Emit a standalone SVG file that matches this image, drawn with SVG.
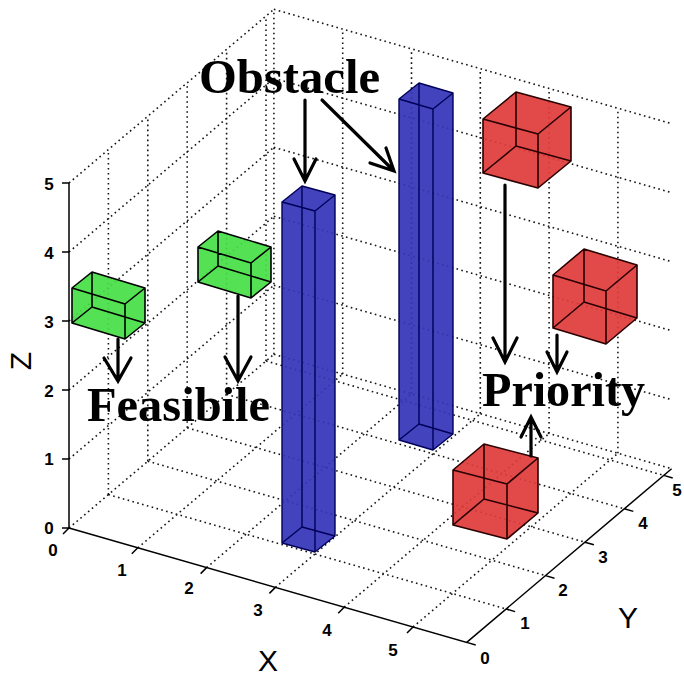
<svg xmlns="http://www.w3.org/2000/svg" width="684" height="676" viewBox="0 0 684 676">
<style>
.grid{fill:none;stroke:#151515;stroke-width:1.6;stroke-dasharray:1.6 3.4}
.axis{fill:none;stroke:#000;stroke-width:1.5}
.tick{font-family:"Liberation Sans",Arial,sans-serif;font-weight:bold;font-size:17px;fill:#000;text-anchor:middle}
.alab{font-family:"Liberation Sans",Arial,sans-serif;font-size:30px;fill:#000;text-anchor:middle}
.big{font-family:"Liberation Serif","Times New Roman",serif;font-weight:bold;font-size:48px;fill:#000}
.gfill{fill:#45de45;fill-opacity:0.92;stroke:none}
.rfill{fill:#e03a3a;fill-opacity:0.92;stroke:none}
.bfill{fill:#3535b8;fill-opacity:0.93;stroke:none}
.edge{fill:none;stroke:#000;stroke-width:1.6;stroke-linejoin:round}
.redge{fill:none;stroke:#2a0000;stroke-width:1.6;stroke-linejoin:round}
.bedge{fill:none;stroke:#00005a;stroke-width:1.4;stroke-linejoin:round}
.arr{fill:none;stroke:#000;stroke-width:3.2;stroke-linecap:round;stroke-linejoin:miter}
</style>
<rect width="684" height="676" fill="#fff"/>
<g id="grid">
<path class="grid" d="M69,528 L273.9,354.3 M69,459 L273.9,285.3 M69,390 L273.9,216.3 M69,321 L273.9,147.3 M69,252 L273.9,78.3 M69,183 L273.9,9.3
M108.4,494.6 L108.4,149.6 M147.8,461.2 L147.8,116.2 M187.2,427.8 L187.2,82.8 M226.6,394.4 L226.6,49.4 M266,361 L266,16 M273.9,354.3 L273.9,9.3
M273.9,354.3 L671.6,468.7 M273.9,285.3 L671.6,399.7 M273.9,216.3 L671.6,330.7 M273.9,147.3 L671.6,261.7 M273.9,78.3 L671.6,192.7 M273.9,9.3 L671.6,123.7
M342.7,374.1 L342.7,29.1 M411.5,393.9 L411.5,48.9 M480.3,413.7 L480.3,68.7 M549.1,433.5 L549.1,88.5 M617.9,453.3 L617.9,108.3
M137.8,547.8 L342.7,374.1 M206.6,567.6 L411.5,393.9 M275.4,587.4 L480.3,413.7 M344.2,607.2 L549.1,433.5 M413,627 L617.9,453.3
M108.4,494.6 L506.1,609 M147.8,461.2 L545.5,575.6 M187.2,427.8 L584.9,542.2 M226.6,394.4 L624.3,508.8 M266,361 L663.7,475.4"/>
</g>
<g id="axes">
<path class="axis" d="M69,528 L69,183 M69,528 L466.7,642.4 L671.6,468.7
M62,528 L69,528 M62,459 L69,459 M62,390 L69,390 M62,321 L69,321 M62,252 L69,252 M62,183 L69,183
M69,528 L63,534 M137.8,547.8 L131.8,553.8 M206.6,567.6 L200.6,573.6 M275.4,587.4 L269.4,593.4 M344.2,607.2 L338.2,613.2 M413,627 L407,633
M466.7,642.4 L475.7,645 M506.1,609 L515.1,611.6 M545.5,575.6 L554.5,578.2 M584.9,542.2 L593.9,544.8 M624.3,508.8 L633.3,511.4 M663.7,475.4 L672.7,478"/>
<text class="tick" x="49" y="534">0</text>
<text class="tick" x="49" y="465">1</text>
<text class="tick" x="49" y="397">2</text>
<text class="tick" x="49" y="328">3</text>
<text class="tick" x="49" y="259">4</text>
<text class="tick" x="49" y="190">5</text>
<text class="tick" x="53" y="556">0</text>
<text class="tick" x="122" y="576">1</text>
<text class="tick" x="189" y="594">2</text>
<text class="tick" x="258" y="616">3</text>
<text class="tick" x="327" y="636">4</text>
<text class="tick" x="393" y="656">5</text>
<text class="tick" x="485" y="664">0</text>
<text class="tick" x="525" y="629">1</text>
<text class="tick" x="563" y="596">2</text>
<text class="tick" x="603" y="563">3</text>
<text class="tick" x="643" y="529">4</text>
<text class="tick" x="677" y="496">5</text>
<text class="alab" x="268" y="671">X</text>
<text class="alab" x="628" y="628">Y</text>
<text class="alab" transform="translate(20,361) rotate(-90)" x="0" y="10.5">Z</text>
</g>
<g id="feasible1">
<path class="gfill" d="M72,323 L125,339 L145,323 L145,288 L92,272 L72,288 Z"/>
<path class="edge" d="M72,323 L125,339 L145,323 L92,307 Z M72,288 L125,304 L145,288 L92,272 Z M72,323 L72,288 M125,339 L125,304 M145,323 L145,288 M92,307 L92,272"/>
</g>
<g id="feasible2">
<path class="gfill" d="M198,282 L251,298 L271,282 L271,247 L218,231 L198,247 Z"/>
<path class="edge" d="M198,282 L251,298 L271,282 L218,266 Z M198,247 L251,263 L271,247 L218,231 Z M198,282 L198,247 M251,298 L251,263 M271,282 L271,247 M218,266 L218,231"/>
</g>
<g id="obstacle1">
<path class="bfill" d="M282,543 L315,552 L335,536 L335,195 L302,186 L282,202 Z"/>
<path class="bedge" d="M282,543 L315,552 L335,536 L302,527 Z M282,202 L315,211 L335,195 L302,186 Z M282,543 L282,202 M315,552 L315,211 M335,536 L335,195 M302,527 L302,186"/>
</g>
<g id="obstacle2">
<path class="bfill" d="M399,440 L433,450 L453,434 L453,93 L419,83 L399,99 Z"/>
<path class="bedge" d="M399,440 L433,450 L453,434 L419,424 Z M399,99 L433,109 L453,93 L419,83 Z M399,440 L399,99 M433,450 L433,109 M453,434 L453,93 M419,424 L419,83"/>
</g>
<g id="priority1">
<path class="rfill" d="M483,173 L538,188 L571,161 L571,107 L516,92 L483,119 Z"/>
<path class="redge" d="M483,173 L538,188 L571,161 L516,146 Z M483,119 L538,134 L571,107 L516,92 Z M483,173 L483,119 M538,188 L538,134 M571,161 L571,107 M516,146 L516,92"/>
</g>
<g id="priority2">
<path class="rfill" d="M553,328 L606,344 L637,318 L637,265 L584,249 L553,275 Z"/>
<path class="redge" d="M553,328 L606,344 L637,318 L584,302 Z M553,275 L606,291 L637,265 L584,249 Z M553,328 L553,275 M606,344 L606,291 M637,318 L637,265 M584,302 L584,249"/>
</g>
<g id="priority3">
<path class="rfill" d="M453,525 L507,539 L538,513 L538,458 L484,444 L453,470 Z"/>
<path class="redge" d="M453,525 L507,539 L538,513 L484,499 Z M453,470 L507,484 L538,458 L484,444 Z M453,525 L453,470 M507,539 L507,484 M538,513 L538,458 M484,499 L484,444"/>
</g>
<g id="connectors">
<path class="arr" d="M118,339 L118,380 M104,358 L118,381 L131,358"/>
<path class="arr" d="M238,296 L238,380 M225,357 L238,381 L251,357"/>
<path class="arr" d="M305,100 L305,180 M294,159 L305,181 L316,159"/>
<path class="arr" d="M322,100 L393,170 M370,163 L394,171 L386,148"/>
<path class="arr" d="M505,185 L505,360 M493,338 L505,362 L517,338"/>
<path class="arr" d="M557,335 L557,370 M547,352 L557,372 L567,352"/>
<path class="arr" d="M531,456 L531,419 M521,437 L531,417 L541,437"/>
</g>
<g id="labels">
<text class="big" x="199" y="93" textLength="181" lengthAdjust="spacingAndGlyphs">Obstacle</text>
<text class="big" x="87" y="421" textLength="183" lengthAdjust="spacingAndGlyphs">Feasibile</text>
<text class="big" x="482" y="406" textLength="163" lengthAdjust="spacingAndGlyphs">Priority</text>
</g>
</svg>
